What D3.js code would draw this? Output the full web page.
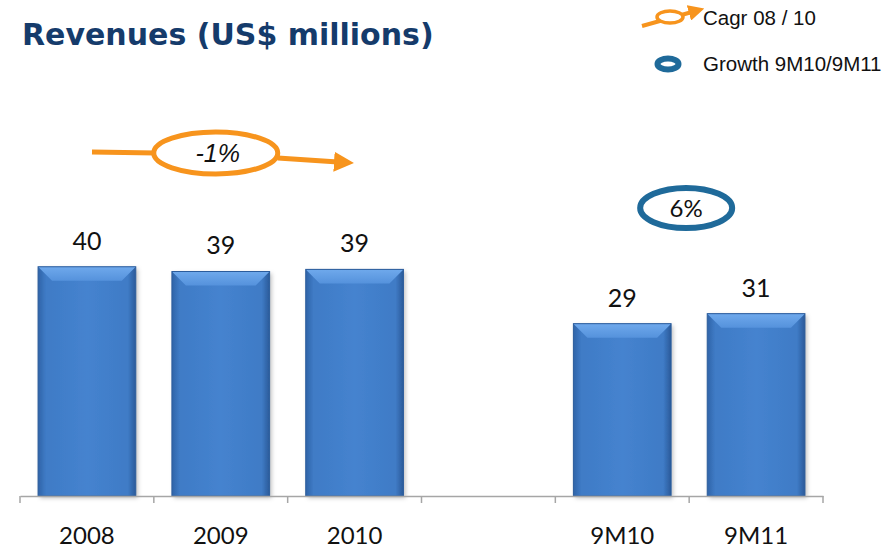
<!DOCTYPE html>
<html>
<head>
<meta charset="utf-8">
<script src="https://cdn.jsdelivr.net/npm/d3@7"></script>
<style>
  body { margin: 0; background: #fff; }
  svg { display: block; }
</style>
</head>
<body>
<div id="chart"></div>
<script>
// categories (empty slot is the gap between annual and 9M figures)
const categories = ['2008', '2009', '2010', 'gap', '9M10', '9M11'];
const tickLabels = ['2008', '2009', '2010', '', '9M10', '9M11'];
const barCategories = ['2008', '2009', '2010', '9M10', '9M11'];
const revenues = [40.1, 39.2, 39.6, 29.3, 31.2];
const valueLabels = ['40', '39', '39', '29', '31'];
const cagrLabel = '-1%';
const growthLabel = '6%';

const width = 892, height = 548;
const svg = d3.select('#chart').append('svg')
    .attr('width', width)
    .attr('height', height);

const defs = svg.append('defs');

// horizontal shading on bar body
const bodyGrad = defs.append('linearGradient').attr('id', 'bar-body')
    .attr('x1', '0%').attr('x2', '100%');
bodyGrad.append('stop').attr('offset', '0%').attr('stop-color', '#2f64a8');
bodyGrad.append('stop').attr('offset', '8%').attr('stop-color', '#3f7bc6');
bodyGrad.append('stop').attr('offset', '50%').attr('stop-color', '#4583cf');
bodyGrad.append('stop').attr('offset', '92%').attr('stop-color', '#3f7bc6');
bodyGrad.append('stop').attr('offset', '100%').attr('stop-color', '#2a5a99');

const topGrad = defs.append('linearGradient').attr('id', 'bar-top')
    .attr('x1', '0%').attr('x2', '0%').attr('y1', '0%').attr('y2', '100%');
topGrad.append('stop').attr('offset', '0%').attr('stop-color', '#6fa9ec');
topGrad.append('stop').attr('offset', '100%').attr('stop-color', '#5592dc');

const shadow = defs.append('filter').attr('id', 'shadow')
    .attr('x', '-10%').attr('y', '-10%').attr('width', '125%').attr('height', '125%');
shadow.append('feDropShadow').attr('dx', 2).attr('dy', 2)
    .attr('stdDeviation', 2).attr('flood-color', '#000').attr('flood-opacity', 0.25);

const arrowMarker = defs.append('marker').attr('id', 'orange-arrow')
    .attr('viewBox', '0 0 10 10').attr('refX', 2).attr('refY', 5)
    .attr('markerWidth', 4).attr('markerHeight', 4)
    .attr('orient', 'auto').attr('markerUnits', 'strokeWidth');
arrowMarker.append('path').attr('d', 'M0,0 L10,5 L0,10 Z').attr('fill', '#f7941d');

// scales
const x = d3.scaleBand()
    .domain(categories)
    .range([20, 823])
    .paddingInner(0.27)
    .paddingOuter(0.135);

// value axis does not start at zero in the original slide
const y = d3.scaleLinear()
    .domain([-3.4, 50])
    .range([496, 496 - 5.27 * 53.4]);

// title
svg.append('text')
    .attr('x', 22)
    .attr('y', 45)
    .style('font-family', '"DejaVu Sans", sans-serif')
    .style('font-weight', 'bold')
    .style('font-size', '30px')
    .style('fill', '#153b6b')
    .text('Revenues (US$ millions)');

// bars
const bars = svg.append('g').attr('class', 'bars')
    .selectAll('g')
    .data(barCategories.map((c, i) => ({ cat: c, value: revenues[i], label: valueLabels[i] })))
    .enter().append('g');

bars.append('rect')
    .attr('x', d => x(d.cat))
    .attr('y', d => y(d.value))
    .attr('width', x.bandwidth())
    .attr('height', d => y.range()[0] - y(d.value))
    .attr('fill', 'url(#bar-body)')
    .attr('filter', 'url(#shadow)');

// top bevel
bars.append('path')
    .attr('d', d => {
        const x0 = x(d.cat), x1 = x0 + x.bandwidth(), t = y(d.value), b = 14;
        return `M${x0},${t} L${x1},${t} L${x1 - b},${t + b} L${x0 + b},${t + b} Z`;
    })
    .attr('fill', 'url(#bar-top)');

bars.append('rect')
    .attr('x', d => x(d.cat))
    .attr('y', d => y(d.value))
    .attr('width', x.bandwidth())
    .attr('height', d => y.range()[0] - y(d.value))
    .attr('fill', 'none')
    .attr('stroke', '#2b5c9c')
    .attr('stroke-width', 1);

bars.append('text')
    .attr('x', d => x(d.cat) + x.bandwidth() / 2)
    .attr('y', d => y(d.value) - 17)
    .attr('text-anchor', 'middle')
    .style('font-family', 'Lato, sans-serif')
    .style('font-size', '25px')
    .style('fill', '#111')
    .text(d => d.label);

// category axis
const axis = svg.append('g')
    .attr('transform', `translate(0,${y.range()[0]})`)
    .call(d3.axisBottom(x).tickSize(0).tickPadding(31).tickFormat((d, i) => tickLabels[i]));
axis.select('.domain').attr('stroke', '#a6a6a6').attr('stroke-width', 1.5);
axis.selectAll('text')
    .style('font-family', 'Lato, sans-serif')
    .style('font-size', '24px')
    .style('fill', '#111');

// tick marks sit on the band boundaries
axis.selectAll('.edge')
    .data(d3.range(categories.length + 1))
    .enter().append('line')
    .attr('class', 'edge')
    .attr('x1', i => x.range()[0] + i * x.step())
    .attr('x2', i => x.range()[0] + i * x.step())
    .attr('y1', 0).attr('y2', 7)
    .attr('stroke', '#a6a6a6').attr('stroke-width', 1.5);

// CAGR annotation (orange)
const cagr = svg.append('g').attr('class', 'cagr');
const cx0 = x('2009') + x.bandwidth() / 2 - 5;
cagr.append('line')
    .attr('x1', 92).attr('y1', 152).attr('x2', cx0 - 60).attr('y2', 153)
    .attr('stroke', '#f7941d').attr('stroke-width', 5);
cagr.append('line')
    .attr('x1', cx0 + 62).attr('y1', 158).attr('x2', 338).attr('y2', 162)
    .attr('stroke', '#f7941d').attr('stroke-width', 5)
    .attr('marker-end', 'url(#orange-arrow)');
cagr.append('ellipse')
    .attr('cx', cx0).attr('cy', 153).attr('rx', 62).attr('ry', 21)
    .attr('fill', '#fff').attr('stroke', '#f7941d').attr('stroke-width', 5);
cagr.append('text')
    .attr('x', cx0 + 2).attr('y', 162)
    .attr('text-anchor', 'middle')
    .style('font-family', '"Liberation Sans", Arial, sans-serif')
    .style('font-style', 'italic')
    .style('font-size', '25px')
    .style('fill', '#111')
    .text(cagrLabel);

// growth annotation (blue)
const gx = (x('9M10') + x('9M11') + x.bandwidth()) / 2 - 3;
svg.append('ellipse')
    .attr('cx', gx).attr('cy', 208).attr('rx', 46).attr('ry', 20)
    .attr('fill', '#fff').attr('stroke', '#1f6a9a').attr('stroke-width', 6);
svg.append('text')
    .attr('x', gx).attr('y', 217)
    .attr('text-anchor', 'middle')
    .style('font-family', 'Lato, sans-serif')
    .style('font-size', '24px')
    .style('fill', '#111')
    .text(growthLabel);

// legend
const legend = svg.append('g').attr('class', 'legend');
legend.append('line')
    .attr('x1', 642).attr('y1', 26).attr('x2', 692).attr('y2', 12)
    .attr('stroke', '#f7941d').attr('stroke-width', 4)
    .attr('marker-end', 'url(#orange-arrow)');
legend.append('ellipse')
    .attr('cx', 670).attr('cy', 17).attr('rx', 13).attr('ry', 6)
    .attr('fill', '#fff').attr('stroke', '#f7941d').attr('stroke-width', 3.5);
legend.append('text')
    .attr('x', 703).attr('y', 25)
    .style('font-family', '"Liberation Sans", Arial, sans-serif')
    .style('font-size', '20.5px')
    .style('fill', '#111')
    .text('Cagr 08 / 10');
legend.append('ellipse')
    .attr('cx', 668).attr('cy', 64).attr('rx', 10.5).attr('ry', 5.5)
    .attr('fill', '#fff').attr('stroke', '#1f6a9a').attr('stroke-width', 6);
legend.append('text')
    .attr('x', 703).attr('y', 71)
    .style('font-family', '"Liberation Sans", Arial, sans-serif')
    .style('font-size', '20.5px')
    .style('fill', '#111')
    .text('Growth 9M10/9M11');
</script>
</body>
</html>
